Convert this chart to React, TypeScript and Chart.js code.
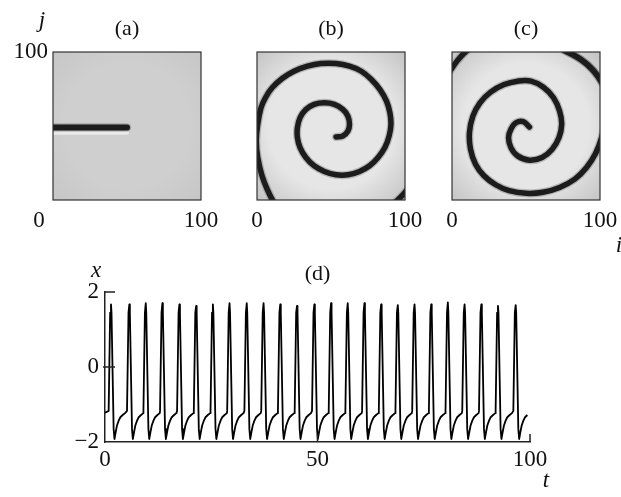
import React, { useEffect, useRef } from "react";
import { Chart, registerables } from "chart.js";

Chart.register(...registerables);

const W = 621;
const H = 497;
const SERIF = '"Liberation Serif", "Times New Roman", serif';

// Lattice axes of the three snapshots (i, j from 0 to 100)
const panelTicks = [0, 100];

// (a) initial broken front: a dark segment along j = 49 for i in [0, 50]
const frontI = [0, 50];
const frontJ = [49, 49];
const frontWakeJ = [45.5, 45.5];

// (b) spiral wave centerline, from the inner tip outward (i, j)
const spiralBI = [53.4, 58.0, 61.4, 62.5, 61.4, 58.0, 52.3, 45.5, 38.6, 33.0, 29.1, 27.3, 27.3, 29.1, 33.0, 38.6, 45.5, 53.4, 61.4, 69.3, 76.1, 81.8, 86.4, 89.3, 90.5, 89.8, 87.5, 83.0, 77.3, 70.5, 62.5, 53.4, 43.2, 34.1, 25.0, 17.0, 10.2, 5.7, 2.7, 0.5, -0.5, 0.5, 3.4, 7.3, 10.9, 14.0];
const spiralBJ = [42.6, 43.3, 46.6, 51.1, 56.7, 61.2, 64.6, 65.7, 64.6, 61.2, 55.6, 48.9, 42.2, 35.4, 28.7, 23.1, 19.3, 17.0, 17.0, 19.3, 23.1, 28.7, 35.4, 43.3, 51.1, 59.0, 66.8, 74.7, 81.4, 87.0, 90.4, 92.2, 92.2, 90.4, 87.0, 82.1, 75.8, 69.1, 62.3, 51.1, 39.9, 28.7, 16.4, 6.3, -0.9, -6.0];
// (b) next turn of the arm, crossing the lower right corner
const cornerBI = [88.0, 94.0, 99.0, 104.0];
const cornerBJ = [-6.0, -1.0, 4.0, 10.0];

// (c) spiral wave centerline at a later time, from the inner tip outward (i, j)
const spiralCI = [52.3, 48.2, 43.2, 39.8, 38.2, 39.8, 44.3, 52.3, 60.9, 67.7, 72.3, 74.1, 72.7, 68.6, 61.8, 53.4, 44.3, 35.2, 26.1, 18.9, 14.1, 11.8, 12.5, 15.9, 21.6, 29.5, 38.6, 50.0, 61.4, 72.7, 83.0, 90.9, 97.0, 101.1, 104.0];
const spiralCJ = [49.3, 52.9, 52.2, 47.8, 42.2, 35.4, 29.8, 26.9, 28.7, 34.3, 42.2, 51.1, 60.1, 69.1, 76.2, 80.3, 80.3, 78.0, 72.9, 65.7, 56.7, 45.5, 34.3, 24.2, 16.4, 10.3, 6.3, 4.5, 5.2, 8.5, 14.1, 22.0, 31.4, 42.2, 55.0];
// (c) outer turn of the arm, crossing the upper right and upper left corners
const cornerCRightI = [76.0, 82.0, 87.0, 91.5, 95.5, 99.0, 102.0];
const cornerCRightJ = [101.0, 98.0, 95.0, 91.5, 87.5, 83.0, 78.0];
const cornerCLeftI = [14.0, 8.5, 3.5, -1.5];
const cornerCLeftJ = [104.0, 99.5, 94.0, 87.0];

// (d) time series x(t) of one element
const xTicks = [0, 50, 100];
const yTicks = [-2, 0, 2];
const spikeTimes = [1.41, 5.73, 9.59, 13.5, 17.51, 21.45, 25.38, 29.3, 33.35, 37.31, 41.24, 45.18, 49.26, 53.19, 57.11, 61.04, 64.98, 68.89, 72.83, 76.76, 80.67, 84.61, 88.55, 92.46, 96.63];
const spikePeaks = [1.67, 1.67, 1.7, 1.7, 1.67, 1.63, 1.67, 1.7, 1.7, 1.7, 1.67, 1.63, 1.67, 1.7, 1.7, 1.7, 1.67, 1.65, 1.67, 1.67, 1.72, 1.67, 1.67, 1.63, 1.65];
// one firing event around its peak: time offset and level (null = the spike's own peak)
const pulseOffsets = [-0.55, -0.2, 0, 0.12, 0.62, 0.82, 1.1, 1.41, 1.81, 2.2, 2.75, 3.3];
const pulseLevels: (number | null)[] = [-1.17, 1.45, null, 1.45, -1.65, -1.92, -1.74, -1.56, -1.43, -1.34, -1.28, -1.23];
const traceStart = { t: 0, x: -1.22 };
const traceEnd = 99.4;

type Pt = { x: number; y: number };
type Label = {
  text: string;
  x: number;
  y: number;
  size?: number;
  italic?: boolean;
  align?: CanvasTextAlign;
  baseline?: CanvasTextBaseline;
};

const pairs = (xs: number[], ys: number[]): Pt[] => xs.map((x, k) => ({ x, y: ys[k] }));

function buildTrace(): Pt[] {
  const pts: Pt[] = [{ x: traceStart.t, y: traceStart.x }];
  spikeTimes.forEach((t0, k) => {
    pulseOffsets.forEach((dt, m) => {
      const lvl = pulseLevels[m];
      pts.push({ x: t0 + dt, y: lvl === null ? spikePeaks[k] : lvl });
    });
  });
  return pts.filter((p) => p.x <= traceEnd);
}

function drawLabels(ctx: CanvasRenderingContext2D, labels: Label[]) {
  ctx.save();
  ctx.fillStyle = "#111";
  for (const l of labels) {
    const size = l.size ?? 23;
    ctx.font = `${l.italic ? "italic " : ""}${size}px ${SERIF}`;
    ctx.textAlign = l.align ?? "center";
    ctx.textBaseline = l.baseline ?? "middle";
    ctx.fillText(l.text, l.x, l.y);
  }
  ctx.restore();
}

type Area = { left: number; top: number; right: number; bottom: number };

function panelConfig(
  area: Area,
  datasets: any[],
  shade: { inner: string; outer: string },
  labels: (ca: Area, px: (v: number) => number) => Label[],
  edgeArcs: Pt[][] = []
): any {
  const panelPlugin = {
    id: "panelLook",
    beforeDatasetsDraw(chart: any) {
      const { ctx, chartArea: ca } = chart;
      const cx = (ca.left + ca.right) / 2;
      const cy = (ca.top + ca.bottom) / 2;
      const r = Math.hypot(ca.right - ca.left, ca.bottom - ca.top) / 2;
      const g = ctx.createRadialGradient(cx, cy, 0, cx, cy, r);
      g.addColorStop(0, shade.inner);
      g.addColorStop(0.6, shade.inner);
      g.addColorStop(1, shade.outer);
      ctx.save();
      ctx.fillStyle = g;
      ctx.fillRect(ca.left, ca.top, ca.right - ca.left, ca.bottom - ca.top);
      ctx.restore();
    },
    afterDatasetsDraw(chart: any) {
      // arm pieces that only graze the panel edge, stroked through the panel scales
      if (!edgeArcs.length) return;
      const { ctx, chartArea: ca, scales } = chart;
      ctx.save();
      ctx.beginPath();
      ctx.rect(ca.left, ca.top, ca.right - ca.left, ca.bottom - ca.top);
      ctx.clip();
      ctx.lineCap = "round";
      ctx.lineJoin = "round";
      for (const [color, width] of [
        ["rgba(60,60,60,0.28)", 8],
        ["#1c1c1c", 5.5],
      ] as [string, number][]) {
        ctx.strokeStyle = color;
        ctx.lineWidth = width;
        for (const arc of edgeArcs) {
          ctx.beginPath();
          arc.forEach((p, k) => {
            const x = scales.x.getPixelForValue(p.x);
            const y = scales.y.getPixelForValue(p.y);
            if (k === 0) ctx.moveTo(x, y);
            else ctx.lineTo(x, y);
          });
          ctx.stroke();
        }
      }
      ctx.restore();
    },
    afterDraw(chart: any) {
      const { ctx, chartArea: ca } = chart;
      ctx.save();
      ctx.strokeStyle = "#333";
      ctx.lineWidth = 1.2;
      ctx.strokeRect(ca.left, ca.top, ca.right - ca.left, ca.bottom - ca.top);
      ctx.restore();
      const xs = chart.scales.x;
      drawLabels(ctx, labels(ca, (v) => xs.getPixelForValue(v)));
    },
  };
  return {
    type: "scatter",
    data: { datasets },
    options: {
      responsive: false,
      animation: false,
      devicePixelRatio: 1,
      events: [],
      layout: {
        padding: { left: area.left, top: area.top, right: W - area.right, bottom: H - area.bottom },
      },
      scales: {
        x: { type: "linear", display: false, min: panelTicks[0], max: panelTicks[1] },
        y: { type: "linear", display: false, min: panelTicks[0], max: panelTicks[1] },
      },
      plugins: { legend: { display: false }, tooltip: { enabled: false } },
    },
    plugins: [panelPlugin],
  };
}

const curve = (data: Pt[], color: string, width: number, tension: number) => ({
  data,
  showLine: true,
  borderColor: color,
  borderWidth: width,
  pointRadius: 0,
  tension,
  borderCapStyle: "round",
  borderJoinStyle: "round",
  fill: false,
  clip: 0,
});

// a dark wave front with a soft edge: a faint wide stroke under a solid core
const front = (data: Pt[], width: number, tension: number) => [
  curve(data, "#1c1c1c", width, tension),
  curve(data, "rgba(60,60,60,0.28)", width + 2.5, tension),
];

function seriesConfig(): any {
  const font = { family: SERIF, size: 23 };
  const axisPlugin = {
    id: "axisMarks",
    afterDraw(chart: any) {
      const { ctx, chartArea: ca, scales } = chart;
      ctx.save();
      ctx.strokeStyle = "#222";
      ctx.lineWidth = 1.5;
      ctx.beginPath();
      for (const v of xTicks) {
        if (v === xTicks[0]) continue;
        const px = scales.x.getPixelForValue(v);
        ctx.moveTo(px, ca.bottom);
        ctx.lineTo(px, ca.bottom - 8);
      }
      for (const v of yTicks) {
        if (v === yTicks[0]) continue;
        const py = scales.y.getPixelForValue(v);
        ctx.moveTo(ca.left - (v === 0 ? 2 : 0), py);
        ctx.lineTo(ca.left + 10, py);
      }
      ctx.stroke();
      ctx.restore();
      drawLabels(ctx, [
        { text: "(d)", x: scales.x.getPixelForValue(50), y: ca.top - 18, size: 22 },
        { text: "x", x: ca.left - 9, y: ca.top - 15, italic: true, baseline: "alphabetic" },
        { text: "t", x: ca.right + 16, y: ca.bottom + 45, italic: true, baseline: "alphabetic" },
      ]);
    },
  };
  return {
    type: "scatter",
    data: {
      datasets: [
        {
          data: buildTrace(),
          showLine: true,
          borderColor: "#000",
          borderWidth: 1.8,
          borderJoinStyle: "round",
          pointRadius: 0,
          tension: 0,
          fill: false,
        },
      ],
    },
    options: {
      responsive: false,
      animation: false,
      devicePixelRatio: 1,
      events: [],
      layout: { padding: { left: 0, top: 292, right: W - 530, bottom: 0 } },
      scales: {
        x: {
          type: "linear",
          min: xTicks[0],
          max: xTicks[xTicks.length - 1],
          afterBuildTicks: (s: any) => {
            s.ticks = xTicks.map((value) => ({ value }));
          },
          afterFit: (s: any) => {
            s.height = H - 442;
          },
          grid: { display: false, drawTicks: false },
          border: { display: true, color: "#222", width: 1.5 },
          ticks: { font, color: "#111", padding: 4, maxRotation: 0, autoSkip: false },
        },
        y: {
          type: "linear",
          min: yTicks[0],
          max: yTicks[yTicks.length - 1],
          afterBuildTicks: (s: any) => {
            s.ticks = yTicks.map((value) => ({ value }));
          },
          afterFit: (s: any) => {
            s.width = 105;
          },
          grid: { display: false, drawTicks: false },
          border: { display: true, color: "#222", width: 1.5 },
          ticks: {
            font,
            color: "#111",
            padding: 6,
            autoSkip: false,
            callback: (v: number) => (v < 0 ? "\u2212" + Math.abs(v) : String(v)),
          },
        },
      },
      plugins: { legend: { display: false }, tooltip: { enabled: false } },
    },
    plugins: [axisPlugin],
  };
}

export default function App() {
  const refA = useRef<HTMLCanvasElement>(null);
  const refB = useRef<HTMLCanvasElement>(null);
  const refC = useRef<HTMLCanvasElement>(null);
  const refD = useRef<HTMLCanvasElement>(null);

  useEffect(() => {
    const charts: Chart[] = [];

    charts.push(
      new Chart(
        refA.current!,
        panelConfig(
          { left: 53, top: 52, right: 201, bottom: 200 },
          [
            ...front(pairs(frontI, frontJ), 6, 0),
            curve(pairs(frontI, frontWakeJ), "rgba(236,236,236,0.9)", 4, 0),
          ],
          { inner: "#cfcfcf", outer: "#c6c6c6" },
          (ca, px) => [
            { text: "(a)", x: (ca.left + ca.right) / 2, y: ca.top - 23, size: 22 },
            { text: "j", x: ca.left - 11, y: ca.top - 25, italic: true, baseline: "alphabetic" },
            { text: String(panelTicks[1]), x: ca.left - 5, y: ca.top, align: "right" },
            { text: String(panelTicks[0]), x: px(panelTicks[0]) - 14, y: ca.bottom + 21 },
            { text: String(panelTicks[1]), x: px(panelTicks[1]), y: ca.bottom + 21 },
          ]
        )
      )
    );

    charts.push(
      new Chart(
        refB.current!,
        panelConfig(
          { left: 257, top: 52, right: 405, bottom: 200 },
          [
            ...front(pairs(spiralBI, spiralBJ), 5.5, 0.4),
            ...front(pairs(cornerBI, cornerBJ), 5.5, 0.4),
          ],
          { inner: "#e6e6e6", outer: "#c4c4c4" },
          (ca, px) => [
            { text: "(b)", x: (ca.left + ca.right) / 2, y: ca.top - 23, size: 22 },
            { text: String(panelTicks[0]), x: px(panelTicks[0]), y: ca.bottom + 21 },
            { text: String(panelTicks[1]), x: px(panelTicks[1]), y: ca.bottom + 21 },
          ]
        )
      )
    );

    charts.push(
      new Chart(
        refC.current!,
        panelConfig(
          { left: 452, top: 52, right: 600, bottom: 200 },
          [
            ...front(pairs(cornerCRightI, cornerCRightJ), 5.5, 0.3),
            ...front(pairs(spiralCI, spiralCJ), 5.5, 0.4),
            ...front(pairs(cornerCLeftI, cornerCLeftJ), 5.5, 0.4),
          ],
          { inner: "#e6e6e6", outer: "#c4c4c4" },
          (ca, px) => [
            { text: "(c)", x: (ca.left + ca.right) / 2, y: ca.top - 23, size: 22 },
            { text: String(panelTicks[0]), x: px(panelTicks[0]), y: ca.bottom + 21 },
            { text: String(panelTicks[1]), x: px(panelTicks[1]), y: ca.bottom + 21 },
            { text: "i", x: ca.right + 19, y: ca.bottom + 52, italic: true, baseline: "alphabetic" },
          ],
          [pairs(cornerCRightI, cornerCRightJ)]
        )
      )
    );

    charts.push(new Chart(refD.current!, seriesConfig()));

    return () => charts.forEach((c) => c.destroy());
  }, []);

  const canvasStyle: React.CSSProperties = { position: "absolute", left: 0, top: 0 };
  return (
    <div
      style={{
        position: "fixed",
        left: 0,
        top: 0,
        width: W,
        height: H,
        background: "#fff",
        overflow: "hidden",
      }}
    >
      <canvas ref={refA} width={W} height={H} style={canvasStyle} />
      <canvas ref={refB} width={W} height={H} style={canvasStyle} />
      <canvas ref={refD} width={W} height={H} style={canvasStyle} />
      <canvas ref={refC} width={W} height={H} style={canvasStyle} />
    </div>
  );
}
